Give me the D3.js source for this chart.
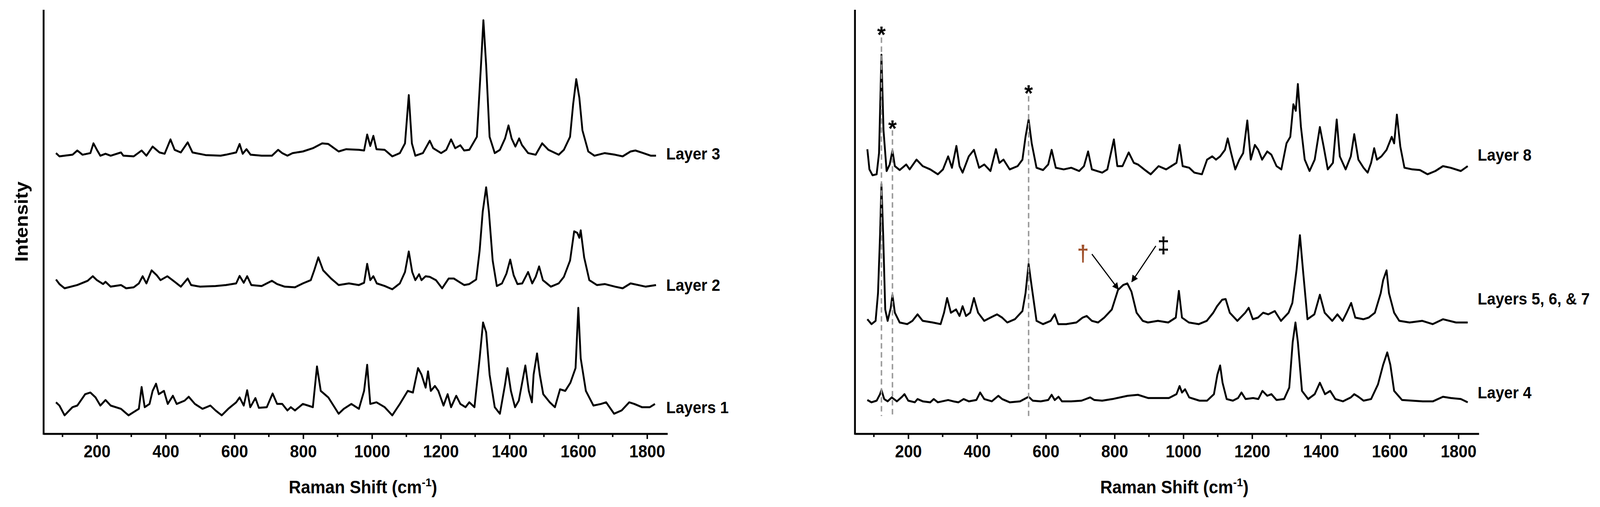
<!DOCTYPE html>
<html lang="en">
<head>
<meta charset="UTF-8" />
<title>Raman spectra</title>
<script src="https://cdn.jsdelivr.net/npm/d3@7"></script>
<style>
  html, body { margin: 0; padding: 0; background: #fff; overflow: hidden; }
  svg { display: block; }
  text { font-family: "Liberation Sans", Arial, sans-serif; font-weight: bold; }
</style>
</head>
<body>
<div id="container"></div>
<script>
// spectra: [Raman shift (cm-1), intensity (offset units)]
const layer3 = [[81,862],[91,852],[106,854],[129,857],[143,870],[158,857],[181,862],[190,892],[200,872],[210,854],[225,860],[240,854],[270,864],[277,854],[307,852],[330,870],[344,854],[362,882],[382,864],[397,860],[414,904],[426,872],[444,864],[464,895],[478,864],[516,856],[560,854],[575,857],[605,864],[615,890],[624,860],[635,874],[647,857],[679,854],[709,854],[727,872],[739,862],[754,854],[769,862],[799,867],[828,877],[855,892],[873,890],[903,867],[925,874],[962,872],[977,870],[986,919],[995,884],[1004,915],[1013,874],[1037,872],[1059,852],[1081,862],[1096,892],[1107,1040],[1116,892],[1126,854],[1148,862],[1168,900],[1178,877],[1201,862],[1216,872],[1230,904],[1242,877],[1257,886],[1268,870],[1283,872],[1305,912],[1317,1132],[1324,1270],[1332,1132],[1342,912],[1357,862],[1372,872],[1387,907],[1397,947],[1406,907],[1417,882],[1428,907],[1436,887],[1454,862],[1476,857],[1495,892],[1513,872],[1543,857],[1558,872],[1576,912],[1585,1012],[1594,1089],[1603,1032],[1612,932],[1629,867],[1647,854],[1677,862],[1707,857],[1729,852],[1752,867],[1766,870],[1789,862],[1811,854],[1826,854]]
const layer2 = [[81,474],[91,460],[106,447],[143,457],[173,470],[188,484],[200,472],[218,460],[225,467],[240,452],[270,457],[285,447],[307,450],[322,462],[333,484],[344,462],[359,502],[374,487],[385,472],[405,484],[426,467],[444,452],[464,477],[474,457],[500,452],[545,454],[575,457],[605,462],[615,485],[627,464],[637,484],[649,457],[679,454],[709,470],[724,460],[746,452],[776,450],[799,462],[822,472],[832,502],[844,542],[858,502],[881,477],[903,457],[933,462],[962,457],[977,464],[986,522],[995,472],[1004,484],[1014,462],[1037,454],[1059,444],[1081,462],[1096,497],[1107,560],[1117,497],[1126,472],[1137,490],[1144,472],[1156,484],[1168,482],[1186,472],[1204,447],[1223,477],[1238,477],[1253,467],[1268,457],[1283,460],[1303,474],[1313,562],[1322,682],[1332,757],[1340,682],[1351,532],[1363,454],[1378,462],[1391,492],[1402,535],[1412,487],[1423,460],[1437,462],[1454,497],[1466,462],[1476,482],[1486,514],[1497,472],[1520,452],[1543,462],[1558,482],[1576,532],[1588,622],[1597,617],[1603,602],[1607,625],[1617,542],[1632,472],[1654,457],[1677,460],[1707,452],[1729,447],[1752,462],[1774,457],[1796,452],[1826,457]]
const layer1 = [[81,97],[91,87],[106,57],[129,82],[143,87],[166,122],[181,127],[196,112],[210,87],[225,104],[240,87],[270,77],[292,57],[307,67],[322,77],[330,144],[339,82],[353,92],[362,132],[372,154],[380,122],[395,132],[406,92],[421,117],[432,92],[455,102],[467,114],[485,92],[507,77],[530,87],[545,72],[563,57],[582,77],[605,97],[615,112],[627,87],[637,134],[646,82],[661,110],[671,80],[694,82],[711,124],[724,92],[739,92],[754,72],[764,82],[776,72],[799,92],[814,87],[828,82],[840,207],[851,132],[873,112],[903,62],[918,77],[940,92],[962,77],[977,132],[986,212],[995,92],[1013,97],[1037,82],[1059,57],[1081,92],[1104,132],[1119,127],[1134,202],[1144,182],[1156,142],[1163,192],[1171,132],[1183,147],[1193,132],[1208,87],[1220,122],[1230,82],[1245,117],[1257,92],[1272,82],[1283,97],[1298,82],[1313,232],[1323,342],[1332,312],[1342,182],[1357,82],[1372,62],[1387,152],[1394,202],[1404,132],[1416,82],[1427,102],[1446,210],[1456,132],[1465,97],[1470,182],[1480,247],[1488,182],[1498,122],[1517,97],[1532,82],[1547,137],[1562,132],[1577,157],[1592,202],[1600,387],[1607,232],[1622,132],[1644,87],[1666,92],[1681,97],[1704,62],[1726,72],[1748,97],[1763,92],[1785,82],[1808,82],[1823,92]]
const layer8 = [[81,874],[87,812],[96,794],[108,797],[115,862],[122,1164],[128,932],[137,807],[146,827],[154,870],[161,822],[175,810],[194,827],[204,812],[224,842],[242,822],[264,812],[286,797],[301,812],[316,852],[327,817],[340,884],[349,822],[358,802],[376,852],[391,872],[406,817],[421,827],[439,807],[455,874],[465,832],[477,842],[495,812],[518,822],[532,842],[541,912],[550,965],[559,892],[573,817],[592,810],[607,827],[617,872],[629,817],[652,812],[674,817],[697,807],[711,822],[723,867],[734,812],[764,802],[779,812],[798,904],[808,822],[823,822],[841,864],[856,832],[868,827],[886,812],[905,797],[928,822],[950,812],[965,822],[980,832],[989,887],[998,822],[1017,817],[1032,802],[1054,797],[1069,842],[1084,852],[1095,842],[1107,852],[1121,872],[1129,907],[1139,862],[1151,812],[1163,842],[1174,862],[1186,962],[1196,842],[1208,887],[1218,872],[1229,842],[1244,867],[1256,857],[1271,822],[1285,812],[1300,892],[1311,912],[1320,1012],[1327,992],[1333,1074],[1342,942],[1353,842],[1367,807],[1382,842],[1397,942],[1408,882],[1420,812],[1435,832],[1446,965],[1455,852],[1472,812],[1487,852],[1497,920],[1509,842],[1524,817],[1536,802],[1546,832],[1555,877],[1563,842],[1576,852],[1591,872],[1606,912],[1613,892],[1621,980],[1631,882],[1643,817],[1666,812],[1688,810],[1710,797],[1733,807],[1755,822],[1777,817],[1807,807],[1827,822]]
const layer567 = [[81,352],[93,337],[105,347],[112,432],[118,612],[122,767],[127,612],[133,382],[140,347],[149,387],[154,427],[161,372],[175,342],[197,337],[212,347],[227,367],[242,347],[271,342],[294,337],[304,372],[313,417],[324,372],[339,382],[349,362],[358,392],[368,362],[380,372],[391,417],[403,372],[421,347],[439,357],[458,367],[473,357],[488,342],[510,352],[532,377],[541,432],[550,522],[559,452],[573,347],[592,337],[614,347],[626,367],[636,337],[659,337],[689,342],[707,357],[719,362],[734,347],[752,342],[770,357],[792,382],[810,442],[825,457],[837,462],[849,437],[864,372],[882,347],[897,342],[926,347],[956,342],[978,357],[987,439],[996,357],[1016,342],[1045,337],[1068,347],[1087,372],[1098,392],[1113,412],[1123,414],[1135,372],[1157,347],[1180,372],[1190,387],[1202,352],[1217,357],[1232,372],[1247,367],[1266,377],[1284,347],[1306,372],[1317,402],[1329,502],[1339,610],[1348,502],[1361,352],[1381,367],[1397,427],[1411,372],[1433,347],[1448,367],[1463,347],[1475,372],[1488,402],[1500,357],[1524,352],[1539,357],[1557,372],[1574,432],[1581,472],[1591,502],[1598,432],[1613,372],[1628,347],[1658,342],[1695,347],[1725,337],[1755,352],[1793,342],[1827,342]]
const layer4 = [[81,104],[93,97],[108,102],[118,122],[122,135],[130,107],[140,100],[152,112],[167,100],[182,114],[189,122],[200,102],[219,97],[227,107],[242,100],[264,97],[274,107],[286,97],[316,104],[331,100],[346,97],[361,107],[376,100],[398,104],[409,127],[421,107],[443,100],[462,117],[473,107],[495,97],[525,100],[550,114],[562,102],[585,100],[607,104],[617,120],[626,104],[637,114],[647,100],[674,100],[704,102],[729,112],[741,104],[764,102],[794,107],[838,117],[868,120],[898,110],[928,110],[958,110],[980,122],[989,147],[996,127],[1005,137],[1017,112],[1047,102],[1069,102],[1089,122],[1099,182],[1107,210],[1114,157],[1126,107],[1144,102],[1159,110],[1169,127],[1181,107],[1203,110],[1218,107],[1230,132],[1244,117],[1256,122],[1271,104],[1293,107],[1308,142],[1318,282],[1326,342],[1333,282],[1345,132],[1363,107],[1382,122],[1397,157],[1412,122],[1427,132],[1442,107],[1464,100],[1487,112],[1497,122],[1509,114],[1524,102],[1546,107],[1566,152],[1581,212],[1593,250],[1602,212],[1613,132],[1636,104],[1666,102],[1696,100],[1726,100],[1755,114],[1778,110],[1807,107],[1827,97]]

const leftNames = ['Layer 3', 'Layer 2', 'Layers 1']
const leftLabelY = [856, 453, 77]
const rightNames = ['Layer 8', 'Layers 5, 6, & 7', 'Layer 4']
const rightLabelY = [852, 410, 122]
const tickValues = [200, 400, 600, 800, 1000, 1200, 1400, 1600, 1800]
const minorTicks = [100, 300, 500, 700, 900, 1100, 1300, 1500, 1700]
// marked bands: [shift, top of dashed line, star position]
const starLines = [[122, 1217, 1237], [154, 932, 949], [550, 1037, 1057]]

const width = 4366, height = 1297
const plotTop = 25, plotBottom = 1110
const svg = d3.create('svg')
  .attr('viewBox', [0, 0, width, height])
  .attr('preserveAspectRatio', 'none')
  .attr('style', 'width: 100vw; height: 100vh;')
const y = d3.scaleLinear().domain([0, 1302]).range([plotBottom, plotTop])

function panel(x0, x1, series, names, labelY) {
  const x = d3.scaleLinear().domain([45, 1860]).range([x0, x1])
  const g = svg.append('g')
  const line = d3.line().x(d => x(d[0])).y(d => y(d[1]))
  series.forEach(s => {
    g.append('path').attr('d', line(s)).attr('fill', 'none')
      .attr('stroke', '#000').attr('stroke-width', 5).attr('stroke-linejoin', 'round')
  })
  names.forEach((n, i) => {
    g.append('text').attr('x', x(1860) - 4).attr('y', y(labelY[i]))
      .attr('dominant-baseline', 'middle').attr('font-size', 42).text(n)
  })
  const ax = g.append('g').attr('transform', `translate(0,${plotBottom})`)
    .call(d3.axisBottom(x).tickValues(tickValues).tickFormat(d3.format('d')).tickSize(13).tickPadding(16))
  ax.selectAll('text').attr('font-size', 44).attr('fill', '#000')
  ax.select('.domain').attr('stroke-width', 5).attr('d', `M${x0},0H${x1}`)
  ax.selectAll('.tick line').attr('stroke-width', 4)
  g.append('g').selectAll('line').data(minorTicks).join('line')
    .attr('x1', d => x(d)).attr('x2', d => x(d)).attr('y1', plotBottom).attr('y2', plotBottom + 8)
    .attr('stroke', '#000').attr('stroke-width', 4)
  g.append('line').attr('x1', x0).attr('x2', x0).attr('y1', plotTop).attr('y2', plotBottom + 2)
    .attr('stroke', '#000').attr('stroke-width', 5)
  const t = g.append('text').attr('x', (x0 + x1) / 2 + 20).attr('y', 1262)
    .attr('text-anchor', 'middle').attr('font-size', 46)
  t.append('tspan').text('Raman Shift (cm')
  t.append('tspan').attr('dy', -18).attr('font-size', 30).text('-1')
  t.append('tspan').attr('dy', 18).text(')')
  return { g, x }
}

panel(119, 1822, [layer3, layer2, layer1], leftNames, leftLabelY)
const right = panel(2333, 4036, [layer8, layer567, layer4], rightNames, rightLabelY)

svg.append('text').attr('transform', `translate(62,567) rotate(-90)`)
  .attr('text-anchor', 'middle').attr('dominant-baseline', 'middle')
  .attr('font-size', 50).text('Intensity')

// dashed guides and stars
const rx = right.x
starLines.forEach(([v, t, s]) => {
  right.g.append('line').attr('x1', rx(v)).attr('x2', rx(v)).attr('y1', y(t)).attr('y2', y(55))
    .attr('stroke', '#999').attr('stroke-width', 4).attr('stroke-dasharray', '14,9')
  right.g.append('text').attr('x', rx(v)).attr('y', y(s) + 30).attr('text-anchor', 'middle')
    .attr('font-size', 60).text('*')
})
// dagger annotations
const defs = svg.append('defs')
defs.append('marker').attr('id', 'ah').attr('viewBox', '0 0 10 10').attr('refX', 9).attr('refY', 5)
  .attr('markerWidth', 6).attr('markerHeight', 6).attr('orient', 'auto')
  .append('path').attr('d', 'M0,0L10,5L0,10z').attr('fill', '#000')
right.g.append('line').attr('x1', rx(734)).attr('y1', y(552)).attr('x2', rx(811)).attr('y2', y(444))
  .attr('stroke', '#000').attr('stroke-width', 3).attr('marker-end', 'url(#ah)')
right.g.append('line').attr('x1', rx(920)).attr('y1', y(577)).attr('x2', rx(850)).attr('y2', y(467))
  .attr('stroke', '#000').attr('stroke-width', 3).attr('marker-end', 'url(#ah)')
right.g.append('text').attr('x', rx(708)).attr('y', y(530)).attr('text-anchor', 'middle')
  .attr('font-size', 58).attr('font-weight', 'normal').attr('fill', '#a0522d').text('†')
right.g.append('text').attr('x', rx(942)).attr('y', y(555)).attr('text-anchor', 'middle')
  .attr('font-size', 58).attr('font-weight', 'normal').text('‡')

document.getElementById('container').append(svg.node())
</script>
</body>
</html>
